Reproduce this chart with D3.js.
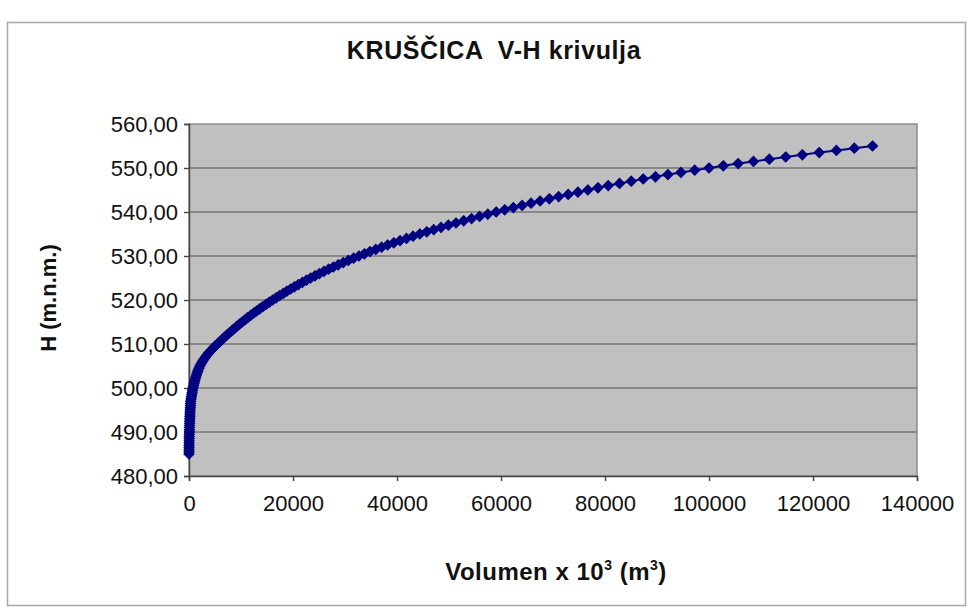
<!DOCTYPE html>
<html>
<head>
<meta charset="utf-8">
<script src="https://cdn.jsdelivr.net/npm/d3@7"></script>
<style>
  body { margin: 0; background: #fff; }
  text { font-family: Arial, "Liberation Sans", sans-serif; }
</style>
</head>
<body>
<div id="chart"></div>
<script>
const width = 973,
      height = 608;

const title = "KRUŠČICA  V-H krivulja";

// Water level (m.n.m.) and matching volume (x 10^3 m3)
const heights = [
  485.0, 485.5, 486.0, 486.5, 487.0, 487.5, 488.0, 488.5, 489.0, 489.5,
  490.0, 490.5, 491.0, 491.5, 492.0, 492.5, 493.0, 493.5, 494.0, 494.5,
  495.0, 495.5, 496.0, 496.5, 497.0, 497.5, 498.0, 498.5, 499.0, 499.5,
  500.0, 500.5, 501.0, 501.5, 502.0, 502.5, 503.0, 503.5, 504.0, 504.5,
  505.0, 505.5, 506.0, 506.5, 507.0, 507.5, 508.0, 508.5, 509.0, 509.5,
  510.0, 510.5, 511.0, 511.5, 512.0, 512.5, 513.0, 513.5, 514.0, 514.5,
  515.0, 515.5, 516.0, 516.5, 517.0, 517.5, 518.0, 518.5, 519.0, 519.5,
  520.0, 520.5, 521.0, 521.5, 522.0, 522.5, 523.0, 523.5, 524.0, 524.5,
  525.0, 525.5, 526.0, 526.5, 527.0, 527.5, 528.0, 528.5, 529.0, 529.5,
  530.0, 530.5, 531.0, 531.5, 532.0, 532.5, 533.0, 533.5, 534.0, 534.5,
  535.0, 535.5, 536.0, 536.5, 537.0, 537.5, 538.0, 538.5, 539.0, 539.5,
  540.0, 540.5, 541.0, 541.5, 542.0, 542.5, 543.0, 543.5, 544.0, 544.5,
  545.0, 545.5, 546.0, 546.5, 547.0, 547.5, 548.0, 548.5, 549.0, 549.5,
  550.0, 550.5, 551.0, 551.5, 552.0, 552.5, 553.0, 553.5, 554.0, 554.5,
  555.0
];

const volumes = [
  0, 2, 5, 9, 14, 20, 27, 35, 44, 54,
  65, 77, 90, 104, 119, 135, 152, 170, 189, 209,
  230, 252, 276, 302, 330, 390, 455, 525, 600, 680,
  765, 865, 970, 1080, 1195, 1320, 1450, 1590, 1735, 1907,
  2104, 2326, 2573, 2845, 3142, 3464, 3811, 4183, 4580, 5000,
  5440, 5884, 6335, 6794, 7260, 7734, 8215, 8704, 9200, 9706,
  10225, 10756, 11300, 11856, 12425, 13006, 13600, 14206, 14825, 15456,
  16100, 16758, 17431, 18119, 18822, 19541, 20277, 21031, 21802, 22592,
  23402, 24232, 25082, 25953, 26847, 27763, 28702, 29663, 30647, 31653,
  32682, 33735, 34813, 35916, 37044, 38198, 39379, 40588, 41824, 43090,
  44387, 45715, 47074, 48465, 49887, 51340, 52824, 54340, 55887, 57465,
  59074, 60712, 62375, 64063, 65776, 67517, 69289, 71092, 72926, 74795,
  76701, 78645, 80626, 82800, 85050, 87350, 89700, 92100, 94600, 97250,
  100000, 102750, 105600, 108550, 111600, 114750, 117950, 121200, 124500, 127950,
  131450
];

const xTicks = [0, 20000, 40000, 60000, 80000, 100000, 120000, 140000];
const yTicks = [480, 490, 500, 510, 520, 530, 540, 550, 560];

const data = heights.map((h, i) => ({ v: volumes[i], h: h }));

const plot = { left: 189, top: 124, right: 917, bottom: 476 };

const x = d3.scaleLinear()
    .domain([0, 140000])
    .range([plot.left, plot.right]);

const y = d3.scaleLinear()
    .domain([480, 560])
    .range([plot.bottom, plot.top]);

const fmtY = d => d3.format(".2f")(d).replace(".", ",");

const svg = d3.select("#chart")
  .append("svg")
    .attr("width", width)
    .attr("height", height);

svg.append("rect")
    .attr("width", width)
    .attr("height", height)
    .attr("fill", "#fff");

// Chart frame
svg.append("rect")
    .attr("x", 7.5)
    .attr("y", 22.5)
    .attr("width", 958)
    .attr("height", 583)
    .attr("fill", "none")
    .attr("stroke", "#a8a8a8")
    .attr("stroke-width", 1.5);

// Plot area
svg.append("rect")
    .attr("x", plot.left)
    .attr("y", plot.top)
    .attr("width", plot.right - plot.left)
    .attr("height", plot.bottom - plot.top)
    .attr("fill", "#c0c0c0")
    .attr("stroke", "#8c8c8c")
    .attr("stroke-width", 1.5);

// Gridlines
svg.append("g")
  .selectAll("line")
  .data(yTicks.slice(1, -1))
  .enter()
  .append("line")
    .attr("x1", plot.left)
    .attr("x2", plot.right)
    .attr("y1", d => y(d))
    .attr("y2", d => y(d))
    .attr("stroke", "#767676")
    .attr("stroke-width", 1.5);

// Y axis
const yAxis = svg.append("g")
    .attr("transform", `translate(${plot.left},0)`)
    .call(d3.axisLeft(y).tickValues(yTicks).tickFormat(fmtY).tickSize(5).tickPadding(6));

// X axis
const xAxis = svg.append("g")
    .attr("transform", `translate(0,${plot.bottom})`)
    .call(d3.axisBottom(x).tickValues(xTicks).tickFormat(d3.format("d")).tickSize(5).tickPadding(14));

[yAxis, xAxis].forEach(a => {
  a.select(".domain").attr("stroke", "#444").attr("stroke-width", 1.4);
  a.selectAll(".tick line").attr("stroke", "#444").attr("stroke-width", 1.4);
  a.selectAll(".tick text")
      .attr("fill", "#111")
      .style("font-size", "22px")
      .style("font-family", "Arial, 'Liberation Sans', sans-serif");
});

// Series: line with square diamond markers
svg.append("path")
    .datum(data)
    .attr("fill", "none")
    .attr("stroke", "#000080")
    .attr("stroke-width", 2)
    .attr("d", d3.line().x(d => x(d.v)).y(d => y(d.h)));

svg.append("g")
  .selectAll("path")
  .data(data)
  .enter()
  .append("path")
    .attr("transform", d => `translate(${x(d.v)},${y(d.h)})`)
    .attr("d", d3.symbol().type(d3.symbolDiamond2).size(64))
    .attr("fill", "#000080")
    .attr("stroke", "#000080")
    .attr("stroke-width", 1.2);

// Title
svg.append("text")
    .attr("x", 494)
    .attr("y", 59)
    .attr("text-anchor", "middle")
    .style("font-size", "25px")
    .style("font-weight", "bold")
    .style("letter-spacing", "0.6px")
    .attr("fill", "#111")
    .attr("xml:space", "preserve")
    .text(title);

// X axis title
const xt = svg.append("text")
    .attr("x", 556)
    .attr("y", 580)
    .attr("text-anchor", "middle")
    .style("font-size", "24px")
    .style("font-weight", "bold")
    .style("letter-spacing", "0.5px")
    .attr("fill", "#111");
xt.append("tspan").text("Volumen x 10");
xt.append("tspan").attr("dy", -10).style("font-size", "14px").text("3");
xt.append("tspan").attr("dy", 10).text(" (m");
xt.append("tspan").attr("dy", -10).style("font-size", "14px").text("3");
xt.append("tspan").attr("dy", 10).text(")");

// Y axis title
svg.append("text")
    .attr("transform", "translate(56,298) rotate(-90)")
    .attr("text-anchor", "middle")
    .style("font-size", "22px")
    .style("font-weight", "bold")
    .attr("fill", "#111")
    .text("H (m.n.m.)");
</script>
</body>
</html>
